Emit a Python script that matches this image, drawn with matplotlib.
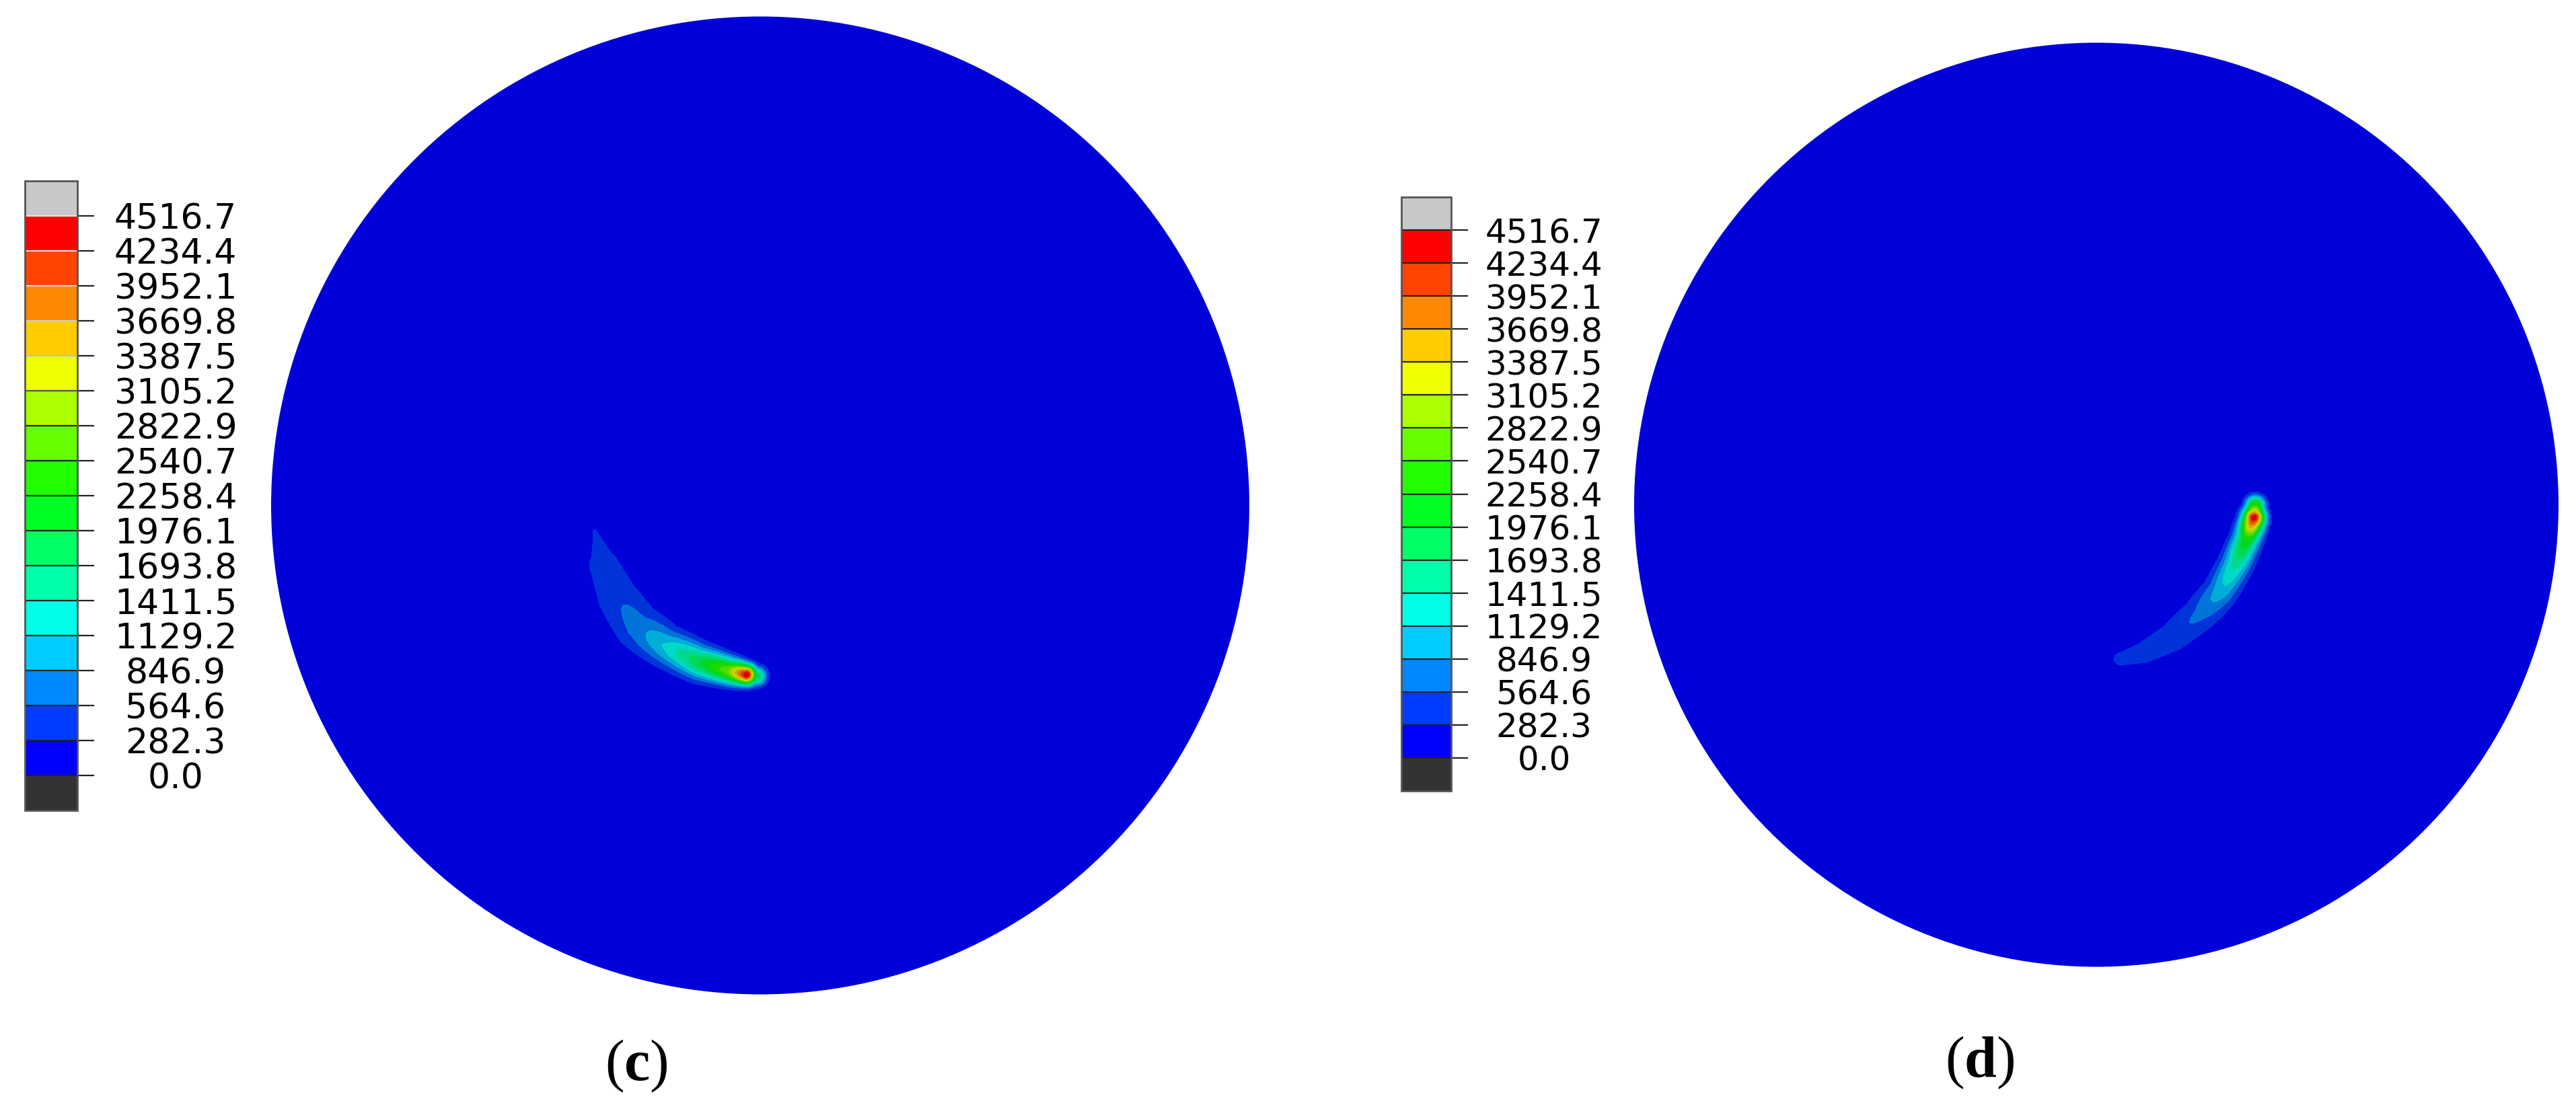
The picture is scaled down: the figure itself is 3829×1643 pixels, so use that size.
import numpy as np
import matplotlib
matplotlib.use('Agg')
from matplotlib import pyplot as plt
from matplotlib.colors import ListedColormap, BoundaryNorm, to_rgb
from matplotlib.cm import ScalarMappable
from matplotlib.patches import Circle

plt.rcParams['mathtext.fontset'] = 'custom'
plt.rcParams['mathtext.rm'] = 'Liberation Serif'
plt.rcParams['mathtext.bf'] = 'Liberation Serif:bold'

# contour levels of the legend
levels = [0.0, 282.3, 564.6, 846.9, 1129.2, 1411.5, 1693.8, 1976.1, 2258.4,
          2540.7, 2822.9, 3105.2, 3387.5, 3669.8, 3952.1, 4234.4, 4516.7]
level_labels = ['%.1f' % v for v in levels]
band_colors = ['#0000ff', '#003cff', '#0088ff', '#00ccff', '#00ffe8', '#00ffaa',
               '#00ff66', '#00ff22', '#22ff00', '#66ff00', '#aaff00', '#eeff00',
               '#ffcc00', '#ff8800', '#ff4400', '#ff0000']
over_color = '#c8c8c8'
under_color = '#333333'

# crescent ridge (c): position on the disc (radius = 1), peak value, spread
c_x = [-0.338, -0.320, -0.290, -0.250, -0.195, -0.126, -0.064, -0.028, -0.007]
c_y = [-0.053, -0.122, -0.190, -0.248, -0.287, -0.320, -0.338, -0.346, -0.349]
c_val = [300, 420, 520, 700, 1150, 1900, 2800, 4480, 1800]
c_w = [0.0150, 0.0460, 0.0520, 0.0490, 0.0385, 0.0330, 0.0260, 0.0199, 0.0193]

# crescent ridge (d)
d_x = [0.052, 0.103, 0.166, 0.224, 0.268, 0.301, 0.326, 0.341, 0.344]
d_y = [-0.334, -0.320, -0.286, -0.237, -0.189, -0.130, -0.072, -0.028, -0.002]
d_val = [330, 380, 470, 620, 1000, 1500, 2300, 4450, 2500]
d_w = [0.0335, 0.0400, 0.0420, 0.0405, 0.0345, 0.0310, 0.0271, 0.0233, 0.0204]

W, H = 3829, 1643
shade = 0.85  # the model is drawn a bit darker than the legend
disc_colors = [tuple(shade * c for c in to_rgb(col)) for col in band_colors]


def ridge_field(X, Y, xs, ys, vs, ws):
    F = np.zeros_like(X)
    for i in range(len(xs) - 1):
        dx, dy = xs[i + 1] - xs[i], ys[i + 1] - ys[i]
        t = ((X - xs[i]) * dx + (Y - ys[i]) * dy) / (dx * dx + dy * dy)
        t = np.clip(t, 0, 1)
        d2 = (X - xs[i] - t * dx) ** 2 + (Y - ys[i] - t * dy) ** 2
        v = vs[i] + t * (vs[i + 1] - vs[i])
        w = ws[i] + t * (ws[i + 1] - ws[i])
        F = np.maximum(F, v * np.exp(-d2 / w ** 2))
    return F


def draw_disc(ax, cx, cy, R, xs, ys, vs, ws):
    ax.add_patch(Circle((cx, cy), R, facecolor=disc_colors[0], edgecolor='none'))
    m = 0.1
    nx = int((max(xs) - min(xs) + 2 * m) * R * 2)
    ny = int((max(ys) - min(ys) + 2 * m) * R * 2)
    gx = np.linspace(min(xs) - m, max(xs) + m, nx)
    gy = np.linspace(min(ys) - m, max(ys) + m, ny)
    X, Y = np.meshgrid(gx, gy)
    F = ridge_field(X, Y, xs, ys, vs, ws)
    ax.contourf(cx + R * X, cy - R * Y, F, levels=levels[1:], colors=disc_colors[1:])


def draw_legend(fig, x0, y0, x1, y1, fsize, offset, fade):
    cax = fig.add_axes([x0 / W, 1 - y1 / H, (x1 - x0) / W, (y1 - y0) / H])
    cmap = ListedColormap(band_colors)
    cmap.set_under(under_color)
    cmap.set_over(over_color)
    norm = BoundaryNorm(levels, cmap.N)
    sm = ScalarMappable(norm=norm, cmap=cmap)
    cb = fig.colorbar(sm, cax=cax, extend='both', extendrect=True,
                      extendfrac=1 / 16, drawedges=True, ticks=levels)
    cb.ax.set_yticklabels(level_labels)
    tick_len = 18
    cb.ax.tick_params(length=tick_len, width=1.6, labelsize=fsize,
                      pad=offset / (100 / 72) - tick_len, colors='#222222',
                      labelcolor='black')
    for lab in cb.ax.get_yticklabels():
        lab.set_horizontalalignment('center')
    cb.outline.set_edgecolor('#555555')
    cb.outline.set_linewidth(2)
    div_cols = ['#222222'] * len(levels)
    if fade:
        light = ['#999999', '#bbbbbb', '#cccccc', '#d8d8d8', '#dddddd', '#e2e2e2']
        for k, col in enumerate(light):
            div_cols[len(levels) - len(light) + k] = col
        ticks = cb.ax.yaxis.get_major_ticks()
        for k, col in enumerate(light):
            ticks[len(levels) - len(light) + k].tick2line.set_color(col)
        div_cols[len(levels) - len(light)] = '#555555'
    cb.dividers.set_color(div_cols)
    cb.dividers.set_linewidth(1.6)
    return cb


fig = plt.figure(figsize=(W / 100, H / 100), dpi=100)
ax = fig.add_axes([0, 0, 1, 1])
ax.set_xlim(0, W)
ax.set_ylim(H, 0)
ax.axis('off')

draw_disc(ax, 1130, 751.5, 727, c_x, c_y, c_val, c_w)
draw_disc(ax, 3116, 750.5, 687, d_x, d_y, d_val, d_w)

ax.text(946, 1585, r'$(\mathbf{c})$', fontsize=62, ha='center', va='center')
ax.text(2943, 1580, r'$(\mathbf{d})$', fontsize=62, ha='center', va='center')

draw_legend(fig, 37, 269, 115, 1205, 37.5, 146, True)
draw_legend(fig, 2083, 293, 2157, 1176, 36, 138, False)

fig.savefig('out.png', dpi=100)
